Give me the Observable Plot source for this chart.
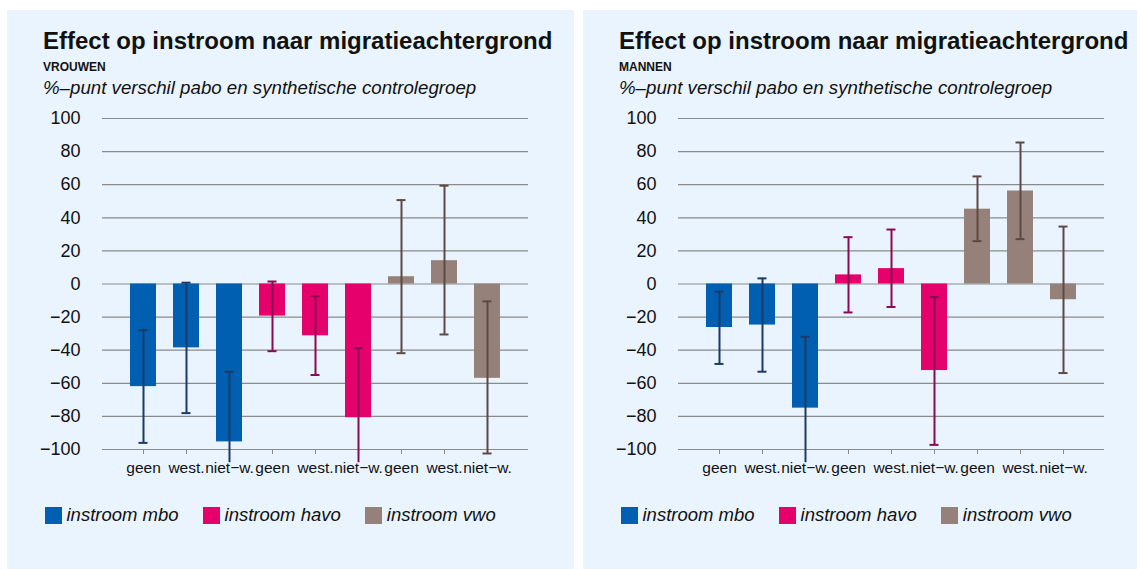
<!DOCTYPE html>
<html>
<head>
<meta charset="utf-8">
<script src="https://cdn.jsdelivr.net/npm/d3@7"></script>
<script src="https://cdn.jsdelivr.net/npm/@observablehq/plot@0.6"></script>
<style>
  html, body { margin: 0; padding: 0; background: #ffffff; }
  body { width: 1137px; height: 569px; overflow: hidden; position: relative;
         font-family: "Liberation Sans", Arial, Helvetica, sans-serif; color: #111; }
  .panel { position: absolute; top: 10px; width: 567px; height: 565px; background: #eaf4fe; overflow: hidden; }
  .panel svg { position: absolute; left: 0; top: 0; }
  .t { position: absolute; white-space: nowrap; line-height: 1; }
  .title { left: 36px; top: 19px; font-size: 24px; font-weight: bold; }
  .sub { left: 36px; top: 51px; font-size: 12px; font-weight: bold; }
  .unit { left: 36px; top: 68.5px; font-size: 18.7px; font-style: italic; }
  .legend { position: absolute; left: 37.5px; top: 496px; display: flex; align-items: flex-start; }
  .item { display: flex; align-items: flex-start; margin-right: 24px; }
  .sw { width: 17px; height: 17px; margin-top: 0.5px; margin-right: 5px; }
  .lt { font-size: 18.5px; font-style: italic; line-height: 1; }
</style>
</head>
<body>
<script>
// ---- data ----
const levels = ["instroom mbo", "instroom havo", "instroom vwo"];
const groups = ["geen", "west.", "niet\u2212w."];
const barColors = ["#005fb0", "#e5006b", "#958179"];
const errColors = ["#1c3a68", "#8a0b52", "#5d4943"];
const yTicks = [-100, -80, -60, -40, -20, 0, 20, 40, 60, 80, 100];

// order: mbo (geen, west., niet-w.), havo (...), vwo (...)
const vrouwenValue = [-62, -38.6, -95.4, -19.4, -31.3, -80.8, 4.4, 14.1, -57];
const vrouwenLow   = [-96, -78, -108, -40.6, -55, -108, -41.8, -30.5, -102.4];
const vrouwenHigh  = [-27.9, 0.8, -53, 1.5, -7.3, -38.8, 50.7, 59.4, -10.5];

const mannenValue = [-26.3, -24.8, -75, 5.5, 9.3, -52.3, 45.2, 56.2, -9.5];
const mannenLow   = [-48.3, -53, -108, -17.2, -13.9, -97.2, 25.9, 27.1, -53.8];
const mannenHigh  = [-4.6, 3.4, -31.9, 28.3, 32.9, -7.9, 65, 85.5, 34.7];

const keys = [];
levels.forEach(l => groups.forEach(g => keys.push(l + "|" + g)));

const fmt = d => d < 0 ? "\u2212" + Math.abs(d) : String(d);

function chart(value, low, high) {
  const rows = keys.map((k, i) => ({
    key: k, level: levels[Math.floor(i / 3)], group: groups[i % 3],
    value: value[i], low: low[i], high: high[i]
  }));
  const errMarks = [];
  levels.forEach((l, i) => {
    const r = rows.filter(d => d.level === l);
    errMarks.push(Plot.ruleX(r, {x: "key", y1: "low", y2: "high", stroke: errColors[i], strokeWidth: 2}));
    errMarks.push(Plot.tickY(r, {x: "key", y: "high", stroke: errColors[i], strokeWidth: 2, insetLeft: 8.5, insetRight: 8.5}));
    errMarks.push(Plot.tickY(r.filter(d => d.low > -105), {x: "key", y: "low", stroke: errColors[i], strokeWidth: 2, insetLeft: 8.5, insetRight: 8.5}));
  });
  return Plot.plot({
    width: 567, height: 480,
    marginLeft: 95, marginRight: 46, marginTop: 108, marginBottom: 41,
    style: {background: "transparent", overflow: "visible",
            fontFamily: "'Liberation Sans', Arial, Helvetica, sans-serif", color: "#111"},
    x: {domain: keys, paddingInner: 0.405, paddingOuter: 0.55, label: null},
    y: {domain: [-100, 100], label: null},
    color: {domain: levels, range: barColors},
    marks: [
      Plot.gridY(yTicks, {stroke: "#8a8a8a", strokeOpacity: 1, strokeWidth: 1.2}),
      Plot.axisY(yTicks, {tickSize: 0, tickPadding: 22, fontSize: 18, tickFormat: fmt, label: null}),
      Plot.axisX({tickSize: 5, tickPadding: 7.5, fontSize: 15.5, stroke: "#8a8a8a",
                  tickFormat: k => k.split("|")[1], label: null}),
      Plot.barY(rows, {x: "key", y: "value", fill: "level"}),
      ...errMarks
    ]
  });
}

function panel(left, sub, value, low, high) {
  const p = document.createElement("div");
  p.className = "panel";
  p.style.left = left + "px";
  p.appendChild(chart(value, low, high));
  const mk = (cls, txt) => { const d = document.createElement("div"); d.className = "t " + cls; d.textContent = txt; p.appendChild(d); };
  mk("title", "Effect op instroom naar migratieachtergrond");
  mk("sub", sub);
  mk("unit", "%\u2013punt verschil pabo en synthetische controlegroep");
  const lg = document.createElement("div");
  lg.className = "legend";
  levels.forEach((l, i) => {
    const it = document.createElement("div"); it.className = "item";
    const sw = document.createElement("div"); sw.className = "sw"; sw.style.background = barColors[i];
    const tx = document.createElement("div"); tx.className = "lt"; tx.textContent = l;
    it.appendChild(sw); it.appendChild(tx); lg.appendChild(it);
  });
  p.appendChild(lg);
  document.body.appendChild(p);
}

panel(7, "VROUWEN", vrouwenValue, vrouwenLow, vrouwenHigh);
panel(583, "MANNEN", mannenValue, mannenLow, mannenHigh);
</script>
</body>
</html>
